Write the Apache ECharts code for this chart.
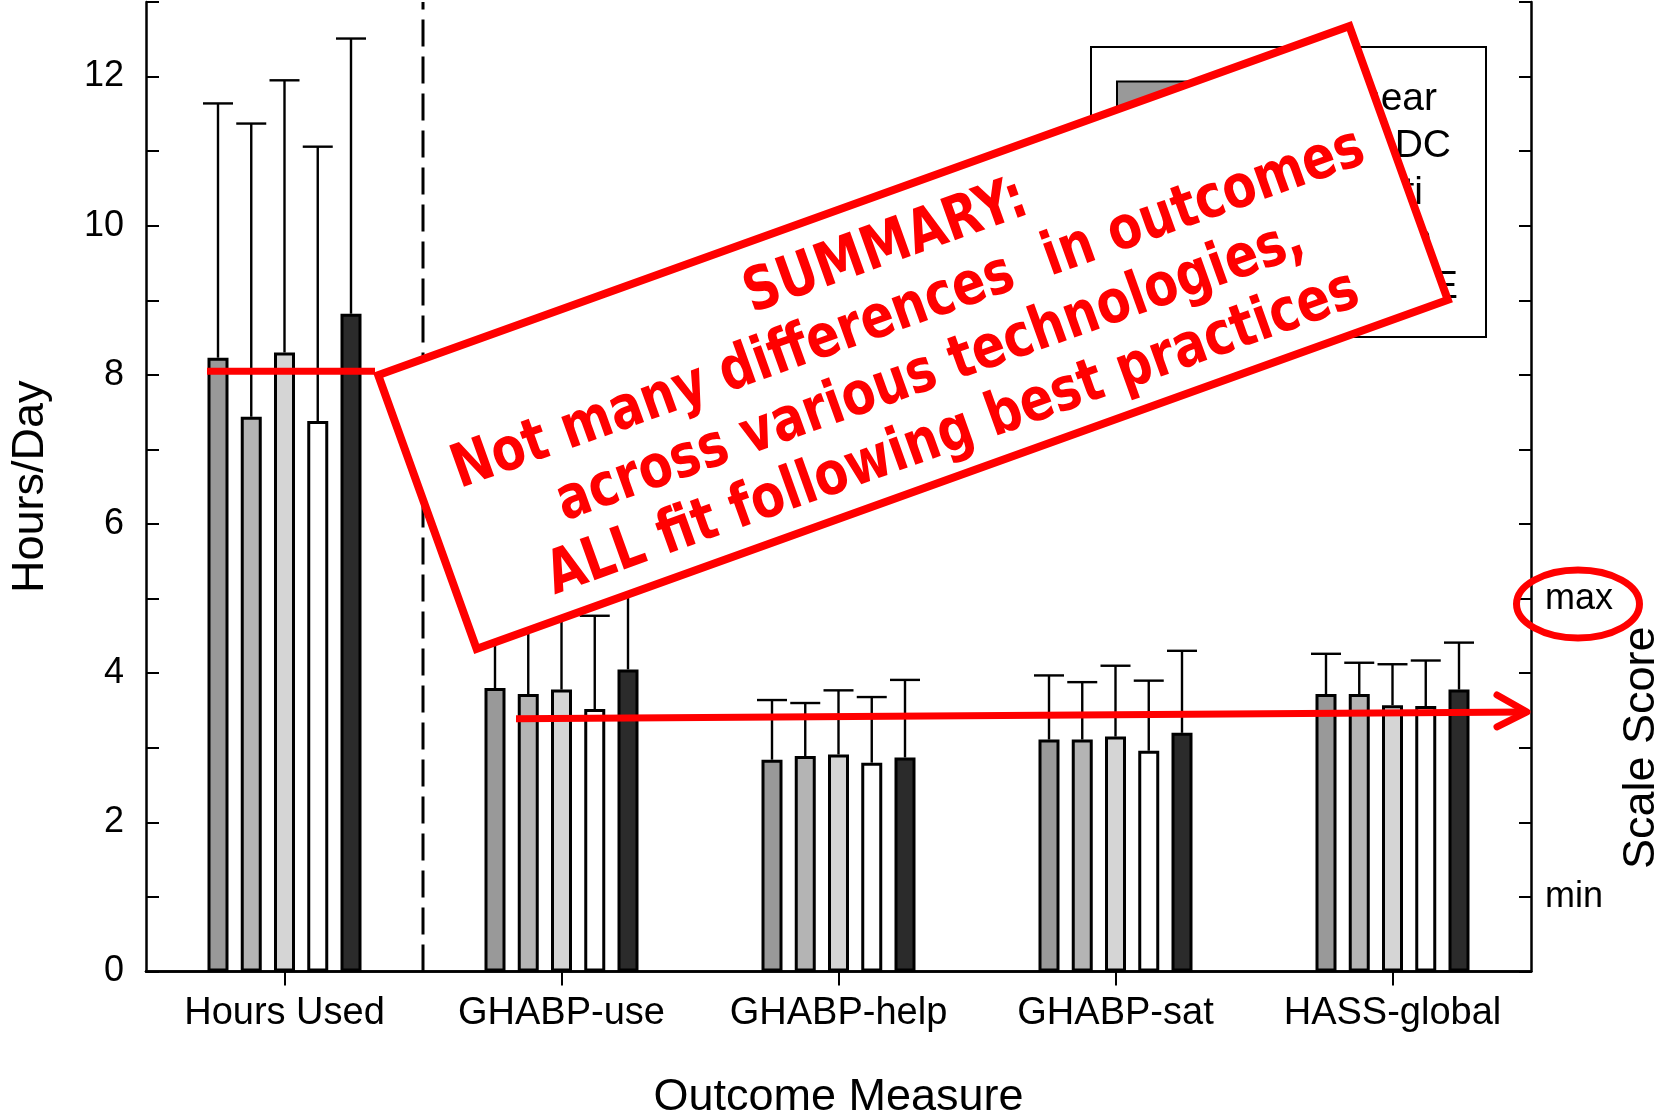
<!DOCTYPE html>
<html>
<head>
<meta charset="utf-8">
<script src="https://cdn.jsdelivr.net/npm/echarts@6/dist/echarts.min.js"></script>
<style>
  html, body { margin: 0; padding: 0; background: #ffffff; }
  #chart { width: 1656px; height: 1116px; }
</style>
</head>
<body>
<div id="chart"></div>
<script>
// Outcome measures (x categories)
const categories = ['Hours Used', 'GHABP-use', 'GHABP-help', 'GHABP-sat', 'HASS-global'];

// Technology groups
const seriesNames = ['Linear', 'ODC', 'Multi', 'Open', 'BTE'];

// Group means per outcome measure
const meanLinear = [8.23, 3.80, 2.84, 3.11, 3.72];
const meanODC    = [7.44, 3.72, 2.89, 3.11, 3.72];
const meanMulti  = [8.30, 3.78, 2.91, 3.15, 3.57];
const meanOpen   = [7.38, 3.52, 2.80, 2.96, 3.56];
const meanBTE    = [8.82, 4.05, 2.87, 3.20, 3.78];

// Standard deviations (upper error bars)
const sdLinear = [3.41, 1.05, 0.80, 0.86, 0.54];
const sdODC    = [3.93, 1.08, 0.71, 0.77, 0.42];
const sdMulti  = [3.65, 1.07, 0.86, 0.95, 0.55];
const sdOpen   = [3.68, 1.25, 0.88, 0.94, 0.61];
const sdBTE    = [3.69, 1.10, 1.04, 1.10, 0.63];

// Axis ranges and right-hand scale labels
const yMax = 13;
const rightTickLabels = { 1: 'min', 5: 'max' };

// Annotation values
const hoursReference = 8.05;
const arrowLevels = [3.39, 3.48];
const summaryLines = [
  'SUMMARY:',
  'Not many differences  in outcomes',
  'across various technologies,',
  'ALL fit following best practices'
];

const means = [meanLinear, meanODC, meanMulti, meanOpen, meanBTE];
const sds = [sdLinear, sdODC, sdMulti, sdOpen, sdBTE];
const fills = ['#999999', '#b4b4b4', '#d5d5d5', '#ffffff', '#2b2b2b'];

const FONT = "'Liberation Sans', Arial, Helvetica, sans-serif";
const BAR_W = 21;
const STEP = 33.25;
const CAP = 15;

const chart = echarts.init(document.getElementById('chart'), null, { renderer: 'canvas' });

const barSeries = seriesNames.map((name, i) => ({
  type: 'bar',
  name: name,
  data: means[i],
  barWidth: BAR_W,
  barGap: ((STEP / BAR_W - 1) * 100) + '%',
  itemStyle: { color: fills[i], borderColor: '#000', borderWidth: 3 },
  z: 2,
  silent: true
}));

const errorSeries = seriesNames.map((name, i) => ({
  type: 'custom',
  data: categories.map((c, j) => [j, means[i][j], sds[i][j]]),
  encode: { x: 0, y: 1 },
  z: 3,
  silent: true,
  renderItem: (params, api) => {
    const c = api.value(0), m = api.value(1), s = api.value(2);
    const base = api.coord([c, m]);
    const top = api.coord([c, m + s]);
    const x = base[0] + (i - 2) * STEP;
    const st = { stroke: '#000', lineWidth: 2.4 };
    return {
      type: 'group',
      children: [
        { type: 'line', shape: { x1: x, y1: base[1], x2: x, y2: top[1] }, style: st },
        { type: 'line', shape: { x1: x - CAP, y1: top[1], x2: x + CAP, y2: top[1] }, style: st }
      ]
    };
  }
}));

// Dashed divider between the hours panel and the scale-score panels
const dividerSeries = {
  type: 'custom',
  data: [[0, 0]],
  encode: { x: 0, y: 1 },
  z: 1,
  silent: true,
  renderItem: (params, api) => {
    const p0 = api.coord([api.value(0), 0]);
    const p1 = api.coord([api.value(0), yMax]);
    const x = p0[0] + api.size([1, 0])[0] / 2;
    return {
      type: 'line',
      shape: { x1: x, y1: p0[1], x2: x, y2: p1[1] },
      style: { stroke: '#000', lineWidth: 3, lineDash: [27, 10] }
    };
  }
};

const legendWidths = [245, 259, 231, 240, 266];
const legendRich = {};
legendWidths.forEach((w, k) => {
  legendRich['t' + k] = { width: w, align: 'right', fontSize: 39, fontFamily: FONT, color: '#000' };
});

chart.setOption({
  animation: false,
  backgroundColor: '#ffffff',
  grid: { left: 146, right: 125, top: 2, bottom: 144.5, containLabel: false, outerBoundsMode: 'none' },
  legend: {
    orient: 'vertical',
    left: 1091, top: 47,
    padding: [33, 28, 30, 25],
    borderColor: '#000', borderWidth: 2,
    backgroundColor: '#fff',
    itemWidth: 70, itemHeight: 36, itemGap: 8,
    icon: 'rect',
    selectedMode: false,
    data: seriesNames,
    formatter: name => '{t' + seriesNames.indexOf(name) + '|' + name + '}',
    textStyle: { fontSize: 39, fontFamily: FONT, color: '#000', rich: legendRich }
  },
  xAxis: [
    {
      type: 'category', data: categories, position: 'bottom',
      axisLine: { lineStyle: { color: '#000', width: 2.5 } },
      axisTick: { show: false },
      axisLabel: { fontSize: 38, fontFamily: FONT, color: '#000', margin: 23, interval: 0 },
      splitLine: { show: false },
      name: 'Outcome Measure', nameLocation: 'middle', nameGap: 104,
      nameTextStyle: { fontSize: 45, fontFamily: FONT, color: '#000' }
    },
    {
      type: 'category', data: categories, position: 'top',
      axisLine: { lineStyle: { color: '#000', width: 2.5 } },
      axisTick: { show: true, inside: true, alignWithLabel: true, length: 14, lineStyle: { color: '#000', width: 2 } },
      axisLabel: { show: false }
    }
  ],
  yAxis: [
    {
      type: 'value', min: 0, max: yMax, interval: 1, position: 'left',
      axisLine: { show: true, lineStyle: { color: '#000', width: 2.5 } },
      axisTick: { show: true, inside: true, length: 13, lineStyle: { color: '#000', width: 2 } },
      axisLabel: {
        fontSize: 36, fontFamily: FONT, color: '#000', margin: 22,
        formatter: v => (v % 2 === 0 && v <= 12) ? String(v) : ''
      },
      splitLine: { show: false },
      name: 'Hours/Day', nameLocation: 'middle', nameGap: 93, nameRotate: 90,
      nameTextStyle: { fontSize: 45, fontFamily: FONT, color: '#000' }
    },
    {
      type: 'value', min: 0, max: yMax, interval: 1, position: 'right',
      axisLine: { show: true, lineStyle: { color: '#000', width: 2.5 } },
      axisTick: { show: true, inside: true, length: 12, lineStyle: { color: '#000', width: 2 } },
      axisLabel: {
        fontSize: 36, fontFamily: FONT, color: '#000', margin: 14,
        formatter: v => rightTickLabels[v] || ''
      },
      splitLine: { show: false }
    }
  ],
  series: [dividerSeries].concat(barSeries, errorSeries)
});

// Annotation overlay, placed through the axes
const yPix = v => chart.convertToPixel({ yAxisIndex: 0 }, v);
const hy = yPix(hoursReference);
const ay0 = yPix(arrowLevels[0]);
const ay1 = yPix(arrowLevels[1]);
const tipX = 1527;
const RED = '#ff0000';

chart.setOption({
  graphic: [
    {
      type: 'text', z: 100,
      x: 1642, y: yPix(3), rotation: Math.PI / 2,
      style: { text: 'Scale Score', font: "45px " + FONT, fill: '#000', textAlign: 'center', textVerticalAlign: 'middle' }
    },
    {
      type: 'line', z: 100,
      shape: { x1: 207, y1: hy, x2: 375, y2: hy },
      style: { stroke: RED, lineWidth: 7 }
    },
    {
      type: 'group', z: 100,
      x: 913, y: 337.5, rotation: 19.77 * Math.PI / 180,
      children: [
        {
          type: 'rect', z: 100,
          shape: { x: -516, y: -145.5, width: 1032, height: 291 },
          style: { fill: '#ffffff', stroke: RED, lineWidth: 8 }
        },
        {
          type: 'text', z: 101,
          x: 5, y: 6, scaleX: 0.91,
          style: {
            text: summaryLines.join('\n'),
            font: "bold 60px 'DejaVu Sans Condensed', 'DejaVu Sans', sans-serif",
            fill: RED, textAlign: 'center', textVerticalAlign: 'middle', lineHeight: 66
          }
        }
      ]
    },
    {
      type: 'line', z: 100,
      shape: { x1: 516, y1: ay0, x2: tipX, y2: ay1 },
      style: { stroke: RED, lineWidth: 7 }
    },
    {
      type: 'polyline', z: 100,
      shape: { points: [[tipX - 30, ay1 - 17], [tipX, ay1], [tipX - 30, ay1 + 15]] },
      style: { stroke: RED, lineWidth: 7, fill: 'none', lineCap: 'round', lineJoin: 'round' }
    },
    {
      type: 'ellipse', z: 102,
      shape: { cx: 1578, cy: 604, rx: 61.5, ry: 34 },
      style: { stroke: RED, lineWidth: 7, fill: 'none' }
    }
  ]
});
</script>
</body>
</html>
